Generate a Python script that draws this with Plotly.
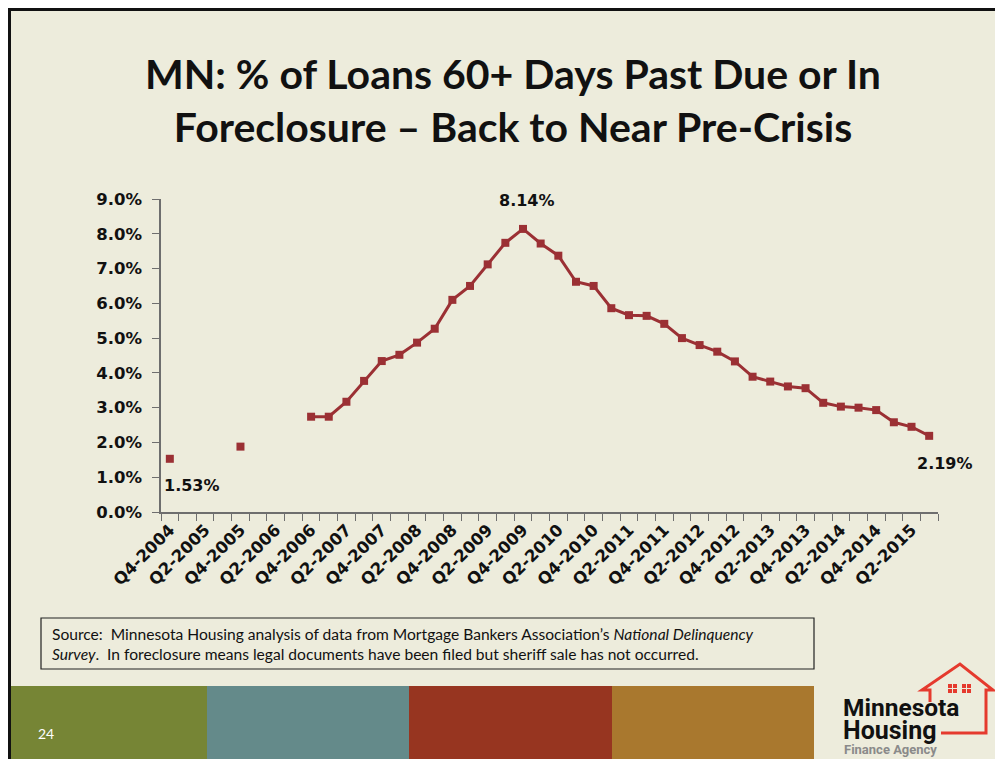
import plotly.graph_objects as go

# ---------------- data ----------------
quarters = [
    "Q4-2004", "Q1-2005", "Q2-2005", "Q3-2005", "Q4-2005",
    "Q1-2006", "Q2-2006", "Q3-2006", "Q4-2006",
    "Q1-2007", "Q2-2007", "Q3-2007", "Q4-2007",
    "Q1-2008", "Q2-2008", "Q3-2008", "Q4-2008",
    "Q1-2009", "Q2-2009", "Q3-2009", "Q4-2009",
    "Q1-2010", "Q2-2010", "Q3-2010", "Q4-2010",
    "Q1-2011", "Q2-2011", "Q3-2011", "Q4-2011",
    "Q1-2012", "Q2-2012", "Q3-2012", "Q4-2012",
    "Q1-2013", "Q2-2013", "Q3-2013", "Q4-2013",
    "Q1-2014", "Q2-2014", "Q3-2014", "Q4-2014",
    "Q1-2015", "Q2-2015", "Q3-2015",
]
pct_60plus = [
    1.53, None, None, None, 1.88,
    None, None, None, 2.74,
    2.74, 3.17, 3.77, 4.34,
    4.52, 4.87, 5.27, 6.10,
    6.50, 7.12, 7.74, 8.14,
    7.72, 7.37, 6.62, 6.50,
    5.86, 5.66, 5.64, 5.41,
    5.00, 4.80, 4.61, 4.33,
    3.89, 3.75, 3.61, 3.56,
    3.14, 3.03, 3.00, 2.93,
    2.58, 2.45, 2.19,
]
y_ticks = [0, 1, 2, 3, 4, 5, 6, 7, 8, 9]
tick_labels = [q if i % 2 == 0 else "" for i, q in enumerate(quarters)]
labelled_idx = [0, 20, 43]

title_text = "MN: % of Loans 60+ Days Past Due or In<br>Foreclosure – Back to Near Pre-Crisis"
source_text = ("Source:  Minnesota Housing analysis of data from Mortgage Bankers Association’s "
               "<i>National Delinquency</i><br><i>Survey</i>.  In foreclosure means legal documents "
               "have been filed but sheriff sale has not occurred.")

# ---------------- layout geometry (screen pixels) ----------------
OFF = 8                      # default page body margin
SW, SH = 1003, 759           # screen size
W, H = SW - OFF, SH - OFF    # figure size
L, R = 161, 938              # plot area in screen pixels
T, B = 199, 512


def px(x):
    return (x - L) / (R - L)


def py(y):
    return (B - y) / (B - T)


BG = "#EDECDC"
LINE = "#9B3034"
AX = "#6E6E6E"

fig = go.Figure()
fig.add_trace(go.Scatter(
    x=quarters, y=pct_60plus, mode="lines+markers",
    line=dict(color=LINE, width=3),
    marker=dict(symbol="square", size=8, color=LINE),
    connectgaps=False, showlegend=False, hoverinfo="x+y",
))

shapes = []
# slide background with dark border
shapes.append(dict(type="rect", xref="paper", yref="paper", layer="below",
                   x0=px(9.5), x1=px(1015), y0=py(9.5), y1=py(775),
                   fillcolor=BG, line=dict(color="#111111", width=3)))
# footer colour bands
bands = [(11, 207, "#768535"), (207, 409, "#648A8A"), (409, 612, "#973520"), (612, 814, "#A9782E")]
for x0, x1, c in bands:
    shapes.append(dict(type="rect", xref="paper", yref="paper", layer="below",
                       x0=px(x0), x1=px(x1), y0=py(686), y1=py(762),
                       fillcolor=c, line=dict(width=0)))
# source box
shapes.append(dict(type="rect", xref="paper", yref="paper", layer="below",
                   x0=px(41), x1=px(814), y0=py(618), y1=py(669),
                   fillcolor=BG, line=dict(color="#222222", width=1.2)))
# logo house outline
house = [(930, 702), (930, 690), (922, 690), (960, 664), (993, 690), (986, 690), (986, 733), (941, 733)]
path = "M " + " L ".join(f"{px(a):.5f},{py(b):.5f}" for a, b in house)
shapes.append(dict(type="path", xref="paper", yref="paper", path=path,
                   line=dict(color="#E53A2E", width=3)))
for wx in (948, 962):
    for dx in (0, 5):
        for dy in (0, 5):
            shapes.append(dict(type="rect", xref="paper", yref="paper",
                               x0=px(wx + dx), x1=px(wx + dx + 4),
                               y0=py(684 + dy), y1=py(684 + dy + 4),
                               fillcolor="#E53A2E", line=dict(width=0)))

ann = []
ann.append(dict(text=f"<b>{title_text}</b>", xref="paper", yref="paper",
                x=px(513), y=py(100), showarrow=False, xanchor="center", yanchor="middle",
                font=dict(family="Lato", size=41, color="#111111"), align="center"))
# data labels
label_shift = {0: (22, -27), 20: (4, 28), 43: (16, -28)}
for i in labelled_idx:
    dx, dy = label_shift[i]
    ann.append(dict(text=f"<b>{pct_60plus[i]:.2f}%</b>", x=quarters[i], y=pct_60plus[i],
                    xref="x", yref="y", showarrow=False, xshift=dx, yshift=dy,
                    font=dict(family="DejaVu Sans", size=16, color="#111111")))
ann.append(dict(text=source_text, xref="paper", yref="paper", x=px(50), y=py(644),
                xanchor="left", yanchor="middle", align="left", showarrow=False,
                font=dict(family="Lato", size=15.6, color="#111111")))
ann.append(dict(text="24", xref="paper", yref="paper", x=px(36), y=py(733),
                xanchor="left", yanchor="middle", showarrow=False,
                font=dict(family="Lato", size=14, color="#FFFFFF")))
ann.append(dict(text="<b>Minnesota</b>", xref="paper", yref="paper", x=px(841), y=py(707),
                xanchor="left", yanchor="middle", showarrow=False,
                font=dict(family="Roboto", size=24.5, color="#111111")))
ann.append(dict(text="<b>Housing</b>", xref="paper", yref="paper", x=px(841), y=py(730),
                xanchor="left", yanchor="middle", showarrow=False,
                font=dict(family="Roboto", size=25, color="#111111")))
ann.append(dict(text="<b>Finance Agency</b>", xref="paper", yref="paper", x=px(842), y=py(749),
                xanchor="left", yanchor="middle", showarrow=False,
                font=dict(family="Roboto", size=13, color="#8A8A8A")))

fig.update_layout(
    width=W, height=H, autosize=False,
    margin=dict(l=L - OFF, r=SW - R, t=T - OFF, b=SH - B, pad=0),
    paper_bgcolor="#FFFFFF", plot_bgcolor="rgba(0,0,0,0)",
    shapes=shapes, annotations=ann,
    xaxis=dict(type="category", categoryorder="array", categoryarray=quarters,
               tickmode="array", tickvals=quarters, ticktext=tick_labels,
               tickson="boundaries", ticks="outside", ticklen=7, tickcolor=AX, tickwidth=1,
               tickangle=-45, showline=True, linecolor=AX, linewidth=1.5,
               showgrid=False, zeroline=False,
               tickfont=dict(family="DejaVu Sans", size=16.5, color="#111111", weight="bold"),
               range=[-0.5, len(quarters) - 0.5]),
    yaxis=dict(range=[0, 9], tickmode="array", tickvals=y_ticks,
               ticktext=[f"{v:.1f}%" for v in y_ticks],
               ticks="outside", ticklen=7, tickcolor=AX, tickwidth=1,
               ticklabelstandoff=7,
               showline=True, linecolor=AX, linewidth=1.5, showgrid=False, zeroline=False,
               tickfont=dict(family="DejaVu Sans", size=16.5, color="#111111", weight="bold")),
)

fig.write_html("out.html")
